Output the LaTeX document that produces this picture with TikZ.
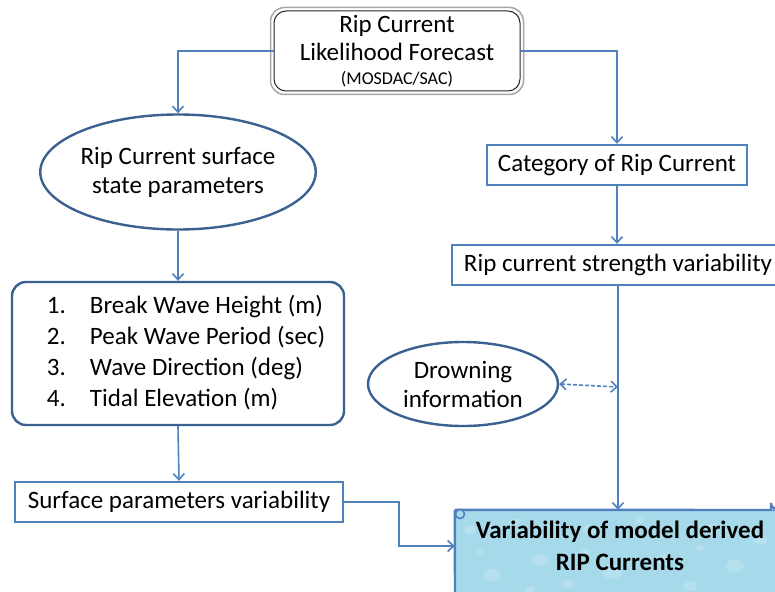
\documentclass[tikz,border=0pt]{standalone}
\usepackage{fontspec}
\setmainfont{Carlito}
\usepackage{xcolor}
\definecolor{ripBlue}{HTML}{4F81BD}
\definecolor{ripDark}{HTML}{3A6190}
\definecolor{ripWater}{HTML}{A6DAEA}
\usetikzlibrary{arrows.meta,shapes.geometric}

\begin{document}
\begin{tikzpicture}[x=1pt,y=-1pt,
  link/.style={draw=ripBlue, line width=1.6pt, -{Straight Barb[length=6pt,width=11pt]}},
  flatbox/.style={draw=ripBlue, line width=2.4pt, fill=white, inner sep=0pt,
    minimum height=40pt, font=\fontsize{25}{29}\selectfont},
  blob/.style={ellipse, draw=ripDark, line width=2.4pt, fill=white, inner sep=0pt,
    align=center, font=\fontsize{25}{29}\selectfont},
  listbox/.style={rectangle, rounded corners=14pt, draw=ripDark, line width=2.4pt,
    inner sep=0pt, minimum width=332pt, minimum height=143pt, font=\fontsize{25}{31}\selectfont}]
  \clip (0,0) rectangle (775,591);
  \useasboundingbox (0,0) rectangle (775,591);

  % ---- forecast on top ----
  \node[rectangle, rounded corners=12pt, draw=black!85, line width=1pt, inner sep=0pt,
    minimum width=246pt, minimum height=80pt, align=center, font=\fontsize{25}{28}\selectfont]
    (forecast) at (397,51)
    {Rip Current\\Likelihood Forecast\\[-4pt]{\fontsize{18}{20}\selectfont (MOSDAC/SAC)}};
  \draw[black!35, line width=1.5pt, rounded corners=14pt]
    ([shift={(-3,-3)}]forecast.north west) rectangle ([shift={(3,3)}]forecast.south east);

  % ---- left branch ----
  \node[blob, minimum width=263pt, minimum height=115pt] (surface) at (178,172)
    {Rip Current surface\\state parameters};
  \node[listbox] (params) at (178,353.5)
    {\hspace*{16pt}\begin{tabular}{@{}l@{\hspace{24pt}}l@{}}
      1. & Break Wave Height (m)\\
      2. & Peak Wave Period (sec)\\
      3. & Wave Direction (deg)\\
      4. & Tidal Elevation (m)
    \end{tabular}};
  \node[flatbox, minimum width=328pt] (surfvar) at (179,502) {Surface parameters variability};

  % ---- right branch ----
  \node[flatbox, minimum width=260pt] (category) at (617,165) {Category of Rip Current};
  \node[flatbox, minimum width=332pt] (strength) at (618,265) {Rip current strength variability};
  \node[blob, minimum width=190pt, minimum height=84pt] (drown) at (463,384)
    {Drowning\\information};

  % ---- scroll at the bottom ----
  \node[minimum width=330pt, minimum height=72pt, inner sep=0pt] (derived) at (620,546) {};
  \fill[ripWater] (derived.north west) rectangle (790,600);
  \begin{scope}
    \clip (derived.north west) rectangle (790,600);
    \foreach \bx/\by/\br in {470/530/6,492/575/9,515/522/5,540/560/8,568/584/6,590/530/7,
        612/572/10,640/520/5,664/560/8,690/586/7,712/528/6,735/566/9,760/540/7,530/590/5,
        655/596/6,700/548/4,480/552/4,585/552/5}
      \fill[white, opacity=0.18] (\bx,\by) ellipse [x radius=\br, y radius=0.7*\br];
  \end{scope}
  \draw[ripBlue, line width=2.4pt] (derived.north west) -- (790,510);
  \draw[ripBlue, line width=2.4pt] (derived.north west) -- (455,600);
  \draw[ripBlue, line width=1.6pt, fill=ripWater] (460,514) circle (4.5);
  \draw[ripBlue, line width=2.4pt, fill=ripWater] (771,510) -- (771,503) arc (180:0:6) -- (783,510);
  \node[align=center, font=\bfseries\fontsize{25}{32}\selectfont] at (derived.center)
    {Variability of model derived\\RIP Currents};

  % ---- connectors ----
  \draw[link] (forecast.west) -| (surface.north);
  \draw[link] (forecast.east) -| (category.north);
  \draw[link] (surface.south) -- (params.north);
  \draw[link] (params.south) -- (surfvar.north);
  \draw[link] (surfvar.east) -- ++(55,0) |- (derived.west);
  \draw[link] (category.south) -- (category.south |- strength.north);
  \draw[link] (strength.south) -- (strength.south |- derived.north);
  \coordinate (meet) at (strength.south |- drown.east);
  \draw[link, dash pattern=on 4pt off 2pt,
    {Straight Barb[length=6pt,width=11pt]}-{Straight Barb[length=6pt,width=11pt]}]
    (drown.east) -- ([yshift=-3pt]meet);
\end{tikzpicture}
\end{document}
